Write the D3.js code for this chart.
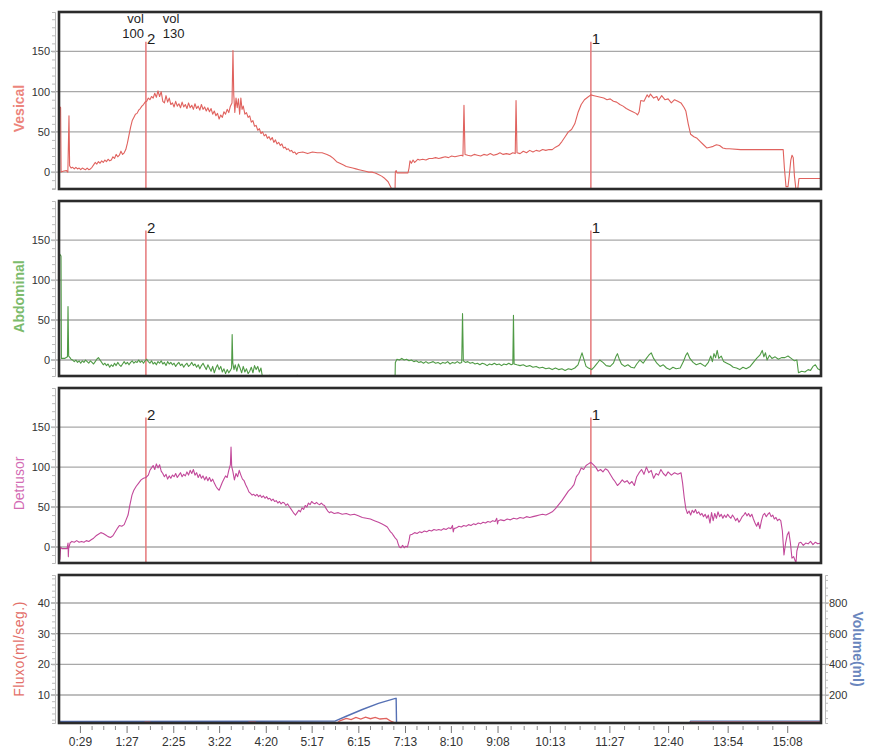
<!DOCTYPE html>
<html>
<head>
<meta charset="utf-8">
<script src="https://cdn.jsdelivr.net/npm/d3@7"></script>
<style>
  body { margin: 0; background: #fff; }
  svg { display: block; font-family: Arial, "Liberation Sans", sans-serif; }
</style>
</head>
<body>
<svg id="chart" width="869" height="748"></svg>
<script>
// ---- Urodynamic study: time in seconds, pressures in cmH2O ----
const vesical = [
  [3,82],[5,80],[5.6,0],[8,1],[12,2],[14,0],[15.4,70],[16.2,8],[18,5],[20,6],[22,4],[24,6],[26,4],[28,5],
  [30,3],[32,5],[34,4],[36,3],[38,5],[40,3],[42,4],[44,6],[46,9],[48,12],[50,10],[52,13],[54,11],[56,14],
  [58,12],[60,15],[62,13],[64,16],[66,14],[68,15],[70,19],[72,17],[74,22],[76,19],[78,21],[80,26],[82,22],
  [84,24],[86,28],[88,36],[90,46],[92,56],[94,64],[96,68],[98,72],[100,73],[102,77],[104,79],[106,82],
  [108,84],[110,87],[112,88],[114,92],[116,90],[118,94],[120,92],[122,98],[124,93],[126,101],[128,94],
  [130,100],[132,88],[134,86],[136,95],[138,87],[140,92],[142,84],[144,86],[146,81],[148,88],[150,82],
  [152,85],[154,80],[156,87],[158,81],[160,84],[162,79],[164,86],[166,80],[168,83],[170,78],[172,85],
  [174,79],[176,82],[178,77],[180,84],[182,78],[184,81],[186,76],[188,80],[190,75],[192,79],[194,72],
  [196,76],[198,70],[200,73],[202,66],[204,71],[206,68],[208,75],[210,72],[212,78],[214,74],[216,82],
  [218,86],[219.2,151],[220.2,96],[221.5,74],[223,92],[224.5,80],[226,91],[227.5,72],[229,92],[230.5,78],
  [232,82],[234,72],[236,74],[238,68],[240,70],[242,62],[244,64],[246,57],[248,58],[250,52],[252,54],
  [254,48],[256,50],[258,45],[260,47],[262,42],[264,44],[266,40],[268,43],[270,37],[272,40],[274,35],
  [276,37],[278,33],[280,35],[282,30],[284,31],[286,28],[288,29],[290,26],[292,27],[294,24],[296,25],
  [298,22],[300,24],[306,25],[312,23],[318,25],[324,24],[330,24],[336,22],[340,20],[344,17],[348,13],
  [352,11],[356,9],[360,7],[364,6],[368,5],[372,4],[376,3],[380,2],[384,1],[388,0],[392,0],[396,-1],
  [400,-3],[404,-5],[408,-8],[412,-12],[416,-20],[418,-25],[420.6,-25],[421,0],[422,2],[423,-1],
  [436.7,-1],[438,5],[439.2,14],[441,11],[443,15],[445,12],[447,14],[449,16],[451,15],[455,16],[459,15],
  [463,17],[467,17],[471,18],[475,17],[479,18],[483,19],[487,18],[491,20],[495,19],[499,20],[503,21],
  [505,20],[506.3,83],[507.6,22],[511,21],[515,20],[519,22],[523,21],[527,20],[531,22],[535,21],[539,23],
  [543,21],[547,22],[551,24],[555,22],[559,23],[563,22],[567,24],[570,23],[571,89],[572.2,24],[576,23],
  [580,26],[584,24],[588,27],[592,25],[596,27],[600,26],[604,28],[608,27],[612,28],[616,28],[620,31],
  [624,33],[628,38],[632,44],[636,50],[640,53],[644,60],[648,74],[652,84],[656,90],[660,93],[664,96],
  [668,95],[672,94],[676,93],[680,92],[684,90],[688,91],[692,88],[696,87],[700,84],[704,82],[708,79],
  [712,77],[716,75],[720,73],[722,71],[724,75],[726,89],[730,88],[734,96],[736,93],[738,97],[742,92],
  [746,94],[748,89],[752,95],[756,90],[760,91],[764,86],[768,90],[772,88],[776,86],[780,80],[782,76],
  [785,60],[788,47],[792,44],[796,42],[800,38],[804,34],[808,30],[812,31],[816,32],[820,34],[824,33],
  [828,30],[832,29],[836,29],[850,28],[870,28],[890,28],[903,28],[904.5,5],[906.5,-18],[909,-18],
  [910.5,-5],[912.5,15],[914,21],[915.5,18],[917,-5],[918.9,-22],[921,-22],[922.6,-8],[950,-8]
];

const abdominal = [
  [3,134],[5.5,130],[6,2],[10,2],[13.5,4],[14.2,67],[15,5],[16.7,3],[18,1],[20,0],[22,-2],[24,0],[26,-3],
  [28,-1],[30,-4],[32,-1],[34,-3],[36,0],[38,-2],[40,-4],[42,-1],[44,-3],[46,-5],[48,-2],[50,1],[52,3],
  [54,0],[56,-3],[58,-6],[60,-4],[62,-7],[64,-5],[66,-9],[68,-6],[70,-8],[72,-4],[74,-7],[76,-3],[78,-6],
  [80,-8],[82,-5],[84,-2],[86,-5],[88,-3],[90,-6],[92,-3],[94,-1],[96,-4],[98,-2],[100,-3],[102,0],
  [104,-3],[106,-1],[108,-4],[110,-1],[112,1],[114,-2],[116,-4],[118,-1],[120,-5],[122,-3],[124,-6],
  [126,-2],[128,-4],[130,-1],[132,-5],[134,-3],[136,-7],[138,-2],[140,-5],[142,-3],[144,-6],[146,-4],
  [148,-8],[150,-5],[152,-3],[154,-7],[156,-5],[158,-9],[160,-6],[162,-4],[164,-8],[166,-6],[168,-3],
  [170,-7],[172,-5],[174,-9],[176,-6],[178,-11],[180,-7],[182,-4],[184,-8],[186,-12],[188,-6],[190,-10],
  [192,-14],[194,-8],[196,-16],[198,-10],[200,-6],[202,-12],[204,-8],[206,-15],[208,-11],[210,-17],
  [212,-12],[214,-16],[216,-13],[217.5,-10],[218.2,32],[219,-4],[220.5,-12],[222,-6],[224,-14],[226,-5],
  [228,-10],[230,-16],[232,-8],[234,-15],[236,-11],[238,-17],[240,-14],[242,-9],[244,-16],[246,-7],
  [248,-12],[250,-8],[252,-15],[254,-10],[255.3,-18],[258,-25],[264,-25],[265,-19],[266,-25],[298,-25],
  [299,-19],[300,-25],[420.6,-25],[421,-3],[423,1],[426,0],[429,2],[432,0],[435,1],[438,-1],[441,0],
  [444,-2],[447,-1],[450,-3],[453,-2],[456,-4],[459,-2],[462,-4],[465,-3],[468,-2],[471,-4],[474,-3],
  [477,-5],[480,-3],[483,-4],[486,-2],[489,-5],[492,-3],[495,-4],[498,-2],[501,-4],[503.5,-3],[504.5,58],
  [505.5,-1],[508,-3],[511,-2],[514,-4],[517,-3],[520,-5],[523,-4],[526,-6],[529,-4],[532,-5],[535,-7],
  [538,-5],[541,-6],[544,-4],[547,-6],[550,-5],[553,-7],[556,-5],[559,-6],[562,-4],[565,-6],[567,-5],
  [567.8,56],[568.6,-5],[572,-6],[576,-7],[580,-6],[584,-8],[588,-7],[592,-9],[596,-8],[600,-10],
  [604,-9],[608,-11],[612,-10],[616,-12],[620,-10],[624,-12],[628,-11],[632,-13],[636,-11],[640,-12],
  [644,-10],[648,-6],[651,3],[653,9],[655,2],[658,-8],[661,-10],[665,-12],[668,-9],[672,-4],[675,0],
  [679,-3],[683,-7],[688,-8],[692,-4],[695,4],[697,8],[699,2],[702,-5],[706,-8],[710,-6],[714,-9],
  [718,-10],[721,-5],[725,0],[729,-4],[733,2],[736,6],[739,9],[742,2],[746,-4],[750,-8],[754,-6],
  [758,-10],[762,-12],[766,-9],[770,-11],[775,-10],[779,-2],[782,6],[784,9],[787,2],[791,-3],[795,-6],
  [800,-4],[806,-8],[810,-3],[813,5],[815,-2],[817,8],[819,3],[821,12],[823,2],[826,5],[829,-2],[833,-4],
  [837,-6],[841,-9],[845,-10],[849,-12],[853,-9],[857,-11],[862,-8],[866,-3],[870,2],[874,6],[877,12],
  [879,4],[881,9],[883,0],[886,6],[889,2],[893,4],[897,1],[901,3],[905,3],[909,5],[913,2],[917,-1],
  [920,0],[922,-16],[926,-14],[930,-15],[934,-12],[937,-13],[940,-8],[943,-6],[946,-11],[950,-13]
];

const detrusor = [
  [3,-18],[4.2,-15],[5,0],[6.7,-2],[13,-2],[14.2,5],[14.6,-12],[15,-2],[16.7,5],[19,7],[22,6],[25,8],
  [28,6],[31,7],[34,6],[37,8],[40,7],[43,9],[46,11],[49,14],[52,16],[55,18],[58,17],[61,15],[64,13],
  [67,12],[70,14],[73,19],[76,24],[78,27],[81,26],[84,28],[86,33],[88.8,40],[91,52],[93.7,65],[96,71],
  [99,76],[102,80],[105,84],[108,86],[111,87],[114,90],[116,96],[118,99],[120,102],[122,97],[124,104],
  [126,99],[128,103],[130,95],[132,92],[134,88],[136,91],[138,85],[140,89],[142,86],[144,90],[146,88],
  [148,92],[150,87],[152,90],[154,93],[156,88],[158,91],[160,89],[162,94],[164,90],[166,96],[168,92],
  [170,97],[172,90],[174,93],[176,87],[178,91],[180,86],[182,89],[184,84],[186,88],[188,83],[190,87],
  [192,82],[194,85],[196,80],[198,76],[200,73],[202,71],[204,76],[206,81],[208,85],[210,89],[212,87],
  [214,96],[216,103],[216.8,125],[217.6,101],[219,95],[221,84],[223,92],[225,88],[227,96],[229,90],
  [231,85],[233,83],[235,78],[237,74],[239,69],[241,67],[243,65],[245,66],[247,64],[249,66],[251,63],
  [253,65],[255,62],[257,64],[259,61],[261,63],[263,60],[265,61],[267,58],[269,60],[271,57],[273,58],
  [275,55],[277,57],[279,54],[281,56],[283,55],[285,52],[287,54],[289,51],[291,48],[293,45],[295,42],
  [297,40],[299,43],[301,46],[303,44],[305,49],[307,47],[309,52],[311,50],[313,55],[315,53],[317,57],
  [319,55],[321,54],[323,56],[325,54],[327,53],[329,55],[331,53],[333,52],[335,48],[337,45],[339,43],
  [341,44],[345,42],[350,43],[355,41],[360,42],[365,40],[370,41],[375,39],[380,37],[385,36],[390,35],
  [395,33],[400,31],[404,29],[408,27],[411,25],[413,22],[415,19],[417,17],[419,14],[421,11],[423,9],
  [424.5,4],[426,0],[428,-1],[430,2],[432,-1],[434,1],[436,0],[438,8],[439.2,15],[442,16],[445,18],
  [448,17],[451,19],[454,18],[457,20],[460,19],[463,21],[466,20],[469,22],[472,21],[475,22],[478,21],
  [481,23],[484,22],[487,24],[490,23],[492,27],[493,19],[494,23],[497,24],[500,26],[503,25],[506,27],
  [509,26],[512,28],[515,27],[518,29],[521,28],[524,30],[527,29],[530,31],[533,30],[536,32],[539,31],
  [542,33],[545,32],[547,36],[548,29],[549,33],[552,34],[556,33],[560,35],[564,34],[568,36],[572,35],
  [576,37],[580,36],[584,38],[588,37],[592,38],[596,39],[600,40],[604,41],[608,40],[612,42],[616,44],
  [620,48],[624,53],[628,58],[632,64],[636,70],[640,74],[643,78],[646,88],[649,92],[652,99],[655,97],
  [658,102],[661,104],[664,106],[667,103],[670,100],[673,95],[676,97],[679,94],[682,98],[685,96],
  [688,91],[691,86],[694,82],[697,77],[700,80],[703,84],[706,81],[709,83],[712,79],[715,82],[718,77],
  [721,88],[724,93],[727,97],[730,91],[733,100],[736,93],[739,96],[742,86],[745,92],[748,90],[751,97],
  [754,92],[757,89],[760,94],[764,90],[768,93],[772,91],[776,93],[778,80],[780,62],[782,48],[784,42],
  [786,45],[788,40],[790,46],[792,43],[794,47],[796,42],[798,44],[800,40],[802,42],[804,38],[806,41],
  [808,36],[810,40],[812,30],[814,43],[816,33],[818,42],[820,36],[822,44],[824,38],[826,41],[828,36],
  [830,40],[832,37],[834,41],[836,38],[838,36],[840,40],[842,37],[844,33],[846,36],[848,31],[850,34],
  [852,38],[854,40],[856,43],[858,39],[860,42],[862,38],[864,41],[866,35],[868,30],[870,26],[872,31],
  [874,23],[876,33],[878,40],[880,42],[882,38],[884,41],[886,43],[888,38],[890,40],[892,35],[894,37],
  [896,33],[898,35],[900,33],[902,20],[904,-10],[906,5],[908,15],[910,19],[912,5],[913.9,-14],[916,-12],
  [918.9,-20],[920,-5],[922.6,5],[925,6],[928,2],[931,5],[934,4],[937,7],[940,3],[943,6],[946,4],[950,5]
];

// flow in ml/s, voided volume in ml
const flow = [
  [3,0.3],[108,0.3],[110,1.2],[116,1.2],[118,0.3],[237,0.3],[239,1.2],[247,1.2],[249,0.3],[346,0.3],
  [352,1.6],[360,2.4],[366,2.0],[372,2.7],[378,2.2],[384,2.8],[390,2.3],[396,2.7],[402,2.2],[410,2.4],
  [416,1.4],[420,1.0],[422,0.3],[786,0.3],[788,1.2],[950,1.2]
];
const volume = [
  [3,28],[346,30],[360,62],[380,106],[400,146],[421,178],[422,178],[422.5,12],[786,12],[788,30],[950,30]
];

const pressureTicks = [0, 50, 100, 150];
const flowTicks = [10, 20, 30, 40];
const volumeTicks = [200, 400, 600, 800];
const timeTicks = [29, 87, 145, 202, 260, 317, 375, 433, 490, 548, 613, 687, 760, 834, 908];

// event markers (time in s) and fill notes
const markers = [{ t: 111, label: "2" }, { t: 664, label: "1" }];
const markerTop = 162;
const fillNotes = [
  { t: 108.5, anchor: "end", lines: ["vol", "100"] },
  { t: 132, anchor: "start", lines: ["vol", "130"] }
];

// ---- layout ----
const svg = d3.select("#chart");
const plotLeft = 59, plotRight = 821;
const x = d3.scaleLinear().domain([3, 950]).range([plotLeft, plotRight]);

const pressurePanels = [
  { id: "ves", label: "Vesical", labelColor: "#ec857c", lineColor: "#e0625e", weight: "bold",
    top: 12, bottom: 189, domain: [-21, 199], data: vesical },
  { id: "abd", label: "Abdominal", labelColor: "#7cbb6c", lineColor: "#4f9a45", weight: "bold",
    top: 201, bottom: 376, domain: [-20, 199], data: abdominal },
  { id: "det", label: "Detrusor", labelColor: "#d36cb4", lineColor: "#c2489a", weight: "normal",
    top: 388, bottom: 563, domain: [-20, 199], data: detrusor }
];

const gridColor = "#a8a8a8";
const tickTextColor = "#333";

function panelFrame(p) {
  const clipId = "clip-" + p.id;
  svg.append("clipPath").attr("id", clipId)
    .append("rect").attr("x", plotLeft).attr("y", p.top)
    .attr("width", plotRight - plotLeft).attr("height", p.bottom - p.top);
  return clipId;
}

function leftAxis(y, ticks) {
  // minor ticks on a faint axis spine
  const minor = d3.range(Math.ceil(y.domain()[0] / 10) * 10, y.domain()[1], 10);
  const g = svg.append("g").attr("transform", `translate(${plotLeft - 4},0)`);
  g.call(d3.axisLeft(y).tickValues(minor).tickSize(3).tickFormat(""));
  g.select(".domain").attr("stroke", "#bbb");
  g.selectAll(".tick line").attr("stroke", "#bbb");
  svg.append("g").selectAll("text").data(ticks).join("text")
    .attr("x", plotLeft - 9).attr("y", d => y(d) + 4)
    .attr("text-anchor", "end").attr("font-size", 11).attr("fill", tickTextColor)
    .text(d => d);
}

function grid(y, ticks, x0) {
  svg.append("g").selectAll("line").data(ticks).join("line")
    .attr("x1", x0).attr("x2", plotRight)
    .attr("y1", d => y(d)).attr("y2", d => y(d))
    .attr("stroke", gridColor).attr("stroke-width", 1.4);
}

function border(top, bottom) {
  svg.append("rect").attr("x", plotLeft).attr("y", top)
    .attr("width", plotRight - plotLeft).attr("height", bottom - top)
    .attr("fill", "none").attr("stroke", "#2b2b2b").attr("stroke-width", 2.6);
}

const line = (y) => d3.line().x(d => x(d[0])).y(d => y(d[1]));

pressurePanels.forEach(p => {
  const y = d3.scaleLinear().domain(p.domain).range([p.bottom, p.top]);
  const clipId = panelFrame(p);
  grid(y, pressureTicks, plotLeft - 8);
  leftAxis(y, pressureTicks);

  // event markers
  const mg = svg.append("g").attr("clip-path", `url(#${clipId})`);
  mg.selectAll("line").data(markers).join("line")
    .attr("x1", d => x(d.t)).attr("x2", d => x(d.t))
    .attr("y1", p.bottom).attr("y2", y(markerTop))
    .attr("stroke", "#e5787a").attr("stroke-width", 1.5);

  svg.append("path").datum(p.data)
    .attr("clip-path", `url(#${clipId})`)
    .attr("fill", "none").attr("stroke", p.lineColor).attr("stroke-width", 1.1)
    .attr("stroke-linejoin", "round")
    .attr("d", line(y));

  svg.append("g").selectAll("text").data(markers).join("text")
    .attr("x", d => x(d.t) + 1).attr("y", y(markerTop) + 2)
    .attr("font-size", 15).attr("fill", "#1e1e1e")
    .text(d => d.label);

  border(p.top, p.bottom);

  svg.append("text")
    .attr("transform", `translate(${24},${(p.top + p.bottom) / 2 + 8}) rotate(-90)`)
    .attr("text-anchor", "middle").attr("font-size", 14).attr("font-weight", p.weight)
    .attr("fill", p.labelColor).text(p.label);

  if (p.id === "ves") {
    fillNotes.forEach(n => {
      n.lines.forEach((s, i) => {
        svg.append("text").attr("x", x(n.t)).attr("y", 23 + i * 15)
          .attr("text-anchor", n.anchor).attr("font-size", 13).attr("fill", "#1e1e1e")
          .text(s);
      });
    });
  }
});

// ---- flow / volume panel ----
const fTop = 575, fBottom = 723;
const yFlow = d3.scaleLinear().domain([0.9, 49.1]).range([fBottom, fTop]);
const yVol = d3.scaleLinear().domain([18, 982]).range([fBottom, fTop]);
const fClip = panelFrame({ id: "flow", top: fTop, bottom: fBottom });

grid(yFlow, flowTicks, plotLeft - 8);
{
  const minor = d3.range(2, 49, 2);
  const g = svg.append("g").attr("transform", `translate(${plotLeft - 4},0)`);
  g.call(d3.axisLeft(yFlow).tickValues(minor).tickSize(3).tickFormat(""));
  g.select(".domain").attr("stroke", "#bbb");
  g.selectAll(".tick line").attr("stroke", "#bbb");
  svg.append("g").selectAll("text").data(flowTicks).join("text")
    .attr("x", plotLeft - 9).attr("y", d => yFlow(d) + 4)
    .attr("text-anchor", "end").attr("font-size", 11).attr("fill", tickTextColor).text(d => d);

  const gr = svg.append("g").attr("transform", `translate(${plotRight + 4},0)`);
  gr.call(d3.axisRight(yVol).tickValues(d3.range(50, 1000, 50)).tickSize(3).tickFormat(""));
  gr.select(".domain").attr("stroke", "#bbb");
  gr.selectAll(".tick line").attr("stroke", "#bbb");
  svg.append("g").selectAll("line").data(volumeTicks).join("line")
    .attr("x1", plotRight).attr("x2", plotRight + 8)
    .attr("y1", d => yVol(d)).attr("y2", d => yVol(d)).attr("stroke", gridColor);
  svg.append("g").selectAll("text").data(volumeTicks).join("text")
    .attr("x", plotRight + 8).attr("y", d => yVol(d) + 4)
    .attr("font-size", 11).attr("fill", tickTextColor).text(d => d);
}

svg.append("path").datum(volume).attr("clip-path", `url(#${fClip})`)
  .attr("fill", "none").attr("stroke", "#5570b4").attr("stroke-width", 1.4).attr("d", line(yVol));
svg.append("path").datum(flow).attr("clip-path", `url(#${fClip})`)
  .attr("fill", "none").attr("stroke", "#e0625e").attr("stroke-width", 1.3).attr("d", line(yFlow));

border(fTop, fBottom);

svg.append("text")
  .attr("transform", `translate(24,${(fTop + fBottom) / 2}) rotate(-90)`)
  .attr("text-anchor", "middle").attr("font-size", 14).attr("letter-spacing", 0.5)
  .attr("fill", "#e3706a").text("Fluxo(ml/seg.)");
svg.append("text")
  .attr("transform", `translate(853,${(fTop + fBottom) / 2}) rotate(90)`)
  .attr("text-anchor", "middle").attr("font-size", 14).attr("font-weight", "bold")
  .attr("fill", "#6a86bd").text("Volume(ml)");

// ---- time axis ----
const fmt = s => `${Math.floor(s / 60)}:${String(s % 60).padStart(2, "0")}`;
const minorTimes = [];
for (let i = 0; i < timeTicks.length - 1; i++) {
  const a = timeTicks[i], b = timeTicks[i + 1];
  for (let k = 1; k < 4; k++) minorTimes.push(a + (b - a) * k / 4);
}
const gx = svg.append("g").attr("transform", `translate(0,${fBottom + 3})`);
gx.call(d3.axisBottom(x).tickValues(minorTimes).tickSize(4).tickFormat(""));
gx.select(".domain").remove();
gx.selectAll(".tick line").attr("stroke", "#888");
const gx2 = svg.append("g").attr("transform", `translate(0,${fBottom + 3})`);
gx2.call(d3.axisBottom(x).tickValues(timeTicks).tickSize(7).tickPadding(4).tickFormat(fmt));
gx2.select(".domain").remove();
gx2.selectAll(".tick line").attr("stroke", "#777");
gx2.selectAll(".tick text").attr("font-size", 12).attr("fill", tickTextColor)
  .attr("font-family", "Arial, 'Liberation Sans', sans-serif");
</script>
</body>
</html>
